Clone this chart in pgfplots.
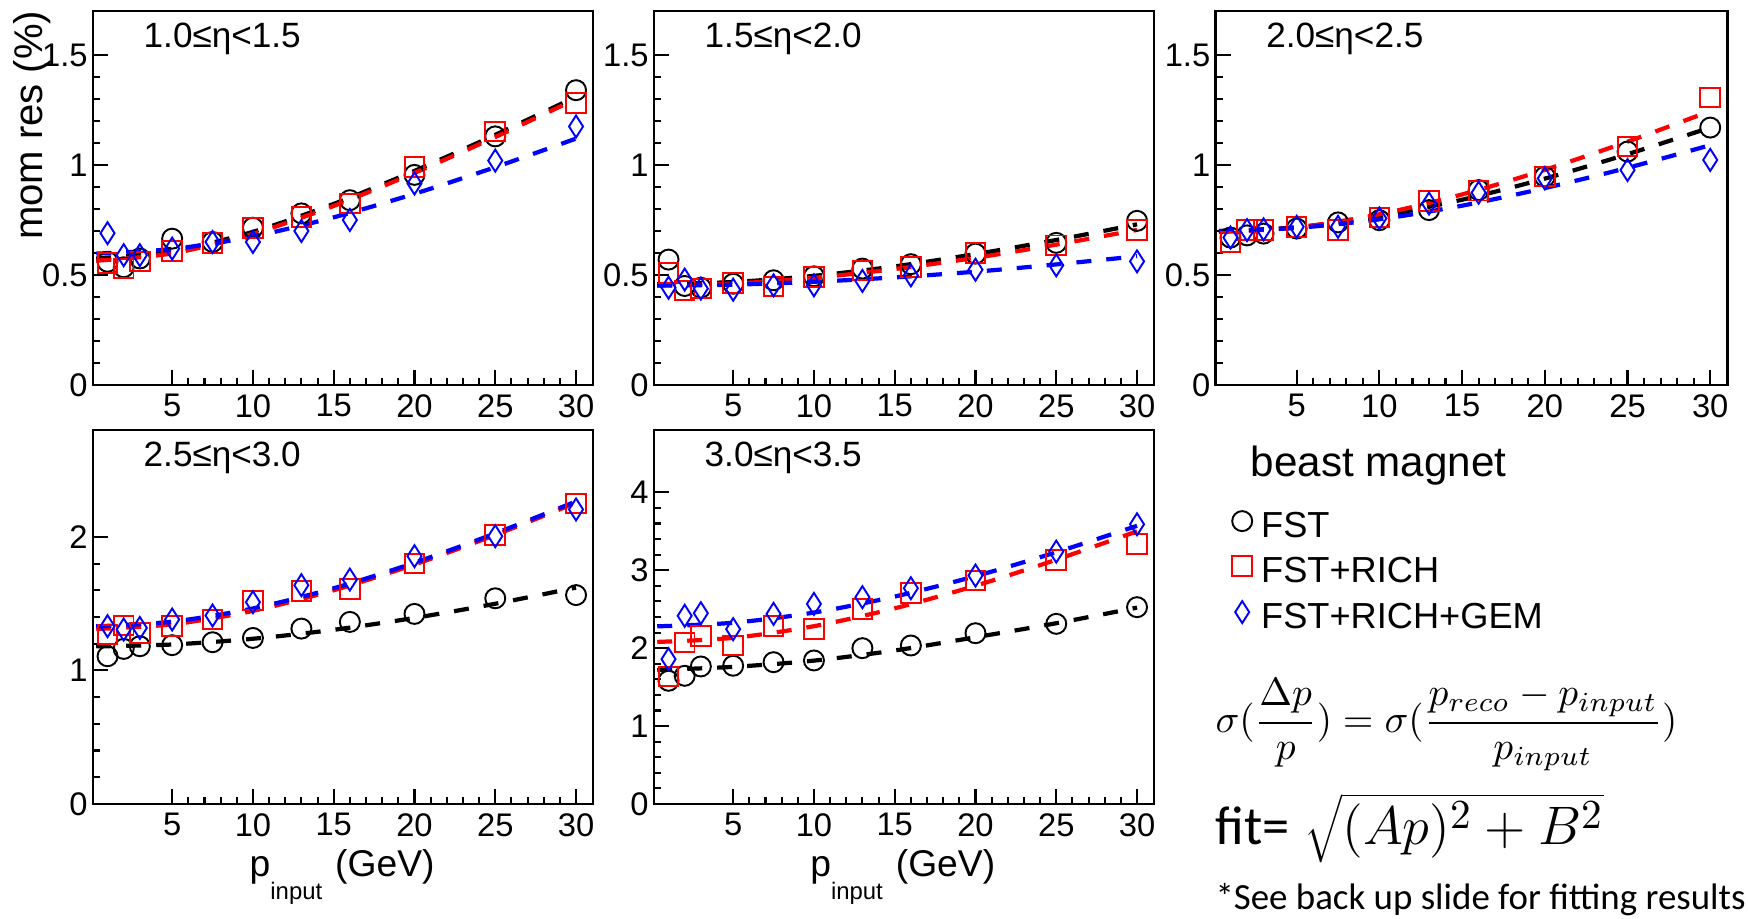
\documentclass[border=0pt]{standalone}
\usepackage{fontspec}
\setmainfont{Liberation Sans}
\newfontfamily\carlito{Carlito}
\usepackage{graphicx}
\usepackage{pgfplots}
\pgfplotsset{compat=1.18}

\pgfplotsset{
  rootframe/.style={
    scale only axis, width=50mm, height=37.4mm,
    anchor=south west, clip=false,
    xmin=0.1, xmax=31.05,
    xtick={5,10,...,30}, minor x tick num=4, minor y tick num=4,
    tick pos=left, tick align=inside,
    major tick length=1.5mm, minor tick length=0.7mm,
    axis line style={line width=0.8pt},
    tick style={line width=0.6pt, black},
    tick label style={font=\fontsize{9.3}{11}\selectfont},
    /pgf/number format/assume math mode=true,
    yticklabel style={xshift=0.7mm},
    xticklabel style={yshift=0.3mm},
  },
  fst/.style={only marks, mark=o, mark size=1mm, black, mark options={line width=0.55pt}},
  rich/.style={only marks, mark=square, mark size=0.98mm, red, mark options={line width=0.55pt}},
  gem/.style={only marks, mark=diamond, mark size=1.1mm, blue, mark options={line width=0.55pt, xscale=0.85}},
  fitline/.style={no marks, smooth, line width=1.2pt, dash pattern=on 1.5mm off 1.5mm, forget plot},
}
\newcommand{\etalabel}[1]{\node[anchor=base west, inner sep=0pt, xshift=5mm, yshift=-3.7mm,
  font=\fontsize{10}{12}\selectfont] at (rel axis cs:0,1) {#1};}

\begin{document}
\begin{tikzpicture}
\useasboundingbox (0,0) rectangle (174.8mm,91.9mm);

% 1.0 <= eta < 1.5
\begin{axis}[rootframe, at={(9.3mm,53.4mm)}, ymin=0, ymax=1.7, ytick={0,0.5,1,1.5}]
\addplot[fst] coordinates {(1,0.56) (2,0.535) (3,0.575) (5,0.665) (7.5,0.65) (10,0.715) (13,0.78) (16,0.84) (20,0.955) (25,1.13) (30,1.34)};
\addplot[rich] coordinates {(1,0.555) (2,0.53) (3,0.562) (5,0.61) (7.5,0.646) (10,0.714) (13,0.764) (16,0.825) (20,0.99) (25,1.152) (30,1.281)};
\addplot[gem] coordinates {(1,0.69) (2,0.59) (3,0.59) (5,0.62) (7.5,0.65) (10,0.65) (13,0.70) (16,0.75) (20,0.916) (25,1.02) (30,1.175)};
\addplot[fitline, black] coordinates {(0.3,0.575) (5,0.608) (10,0.696) (15,0.823) (20,0.973) (25,1.137) (30,1.31)};
\addplot[fitline, red] coordinates {(0.3,0.565) (5,0.598) (10,0.687) (15,0.814) (20,0.964) (25,1.127) (30,1.30)};
\addplot[fitline, blue] coordinates {(0.3,0.597) (5,0.618) (10,0.675) (15,0.762) (20,0.869) (25,0.990) (30,1.12)};
\etalabel{1.0≤η<1.5}
\end{axis}

% 1.5 <= eta < 2.0
\begin{axis}[rootframe, at={(65.4mm,53.4mm)}, ymin=0, ymax=1.7, ytick={0,0.5,1,1.5}]
\addplot[fst] coordinates {(1,0.57) (2,0.45) (3,0.442) (5,0.46) (7.5,0.476) (10,0.494) (13,0.529) (16,0.549) (20,0.597) (25,0.646) (30,0.746)};
\addplot[rich] coordinates {(1,0.51) (2,0.43) (3,0.438) (5,0.464) (7.5,0.448) (10,0.49) (13,0.521) (16,0.536) (20,0.60) (25,0.635) (30,0.704)};
\addplot[gem] coordinates {(1,0.442) (2,0.479) (3,0.438) (5,0.433) (7.5,0.453) (10,0.453) (13,0.473) (16,0.498) (20,0.524) (25,0.544) (30,0.562)};
\addplot[fitline, black] coordinates {(0.3,0.458) (5,0.468) (10,0.496) (15,0.539) (20,0.595) (25,0.659) (30,0.73)};
\addplot[fitline, red] coordinates {(0.3,0.452) (5,0.461) (10,0.487) (15,0.527) (20,0.578) (25,0.638) (30,0.705)};
\addplot[fitline, blue] coordinates {(0.3,0.452) (5,0.456) (10,0.469) (15,0.489) (20,0.515) (25,0.548) (30,0.585)};
\etalabel{1.5≤η<2.0}
\end{axis}

% 2.0 <= eta < 2.5
\begin{axis}[rootframe, at={(121.56mm,53.4mm)}, width=51.2mm, ymin=0, ymax=1.7, ytick={0,0.5,1,1.5}]
\addplot[fst] coordinates {(1,0.67) (2,0.68) (3,0.688) (5,0.711) (7.5,0.739) (10,0.749) (13,0.795) (16,0.886) (20,0.947) (25,1.061) (30,1.17)};
\addplot[rich] coordinates {(1,0.65) (2,0.704) (3,0.704) (5,0.719) (7.5,0.704) (10,0.761) (13,0.836) (16,0.883) (20,0.947) (25,1.084) (30,1.307)};
\addplot[gem] coordinates {(1,0.67) (2,0.704) (3,0.707) (5,0.719) (7.5,0.719) (10,0.757) (13,0.825) (16,0.874) (20,0.939) (25,0.977) (30,1.023)};
\addplot[fitline, black] coordinates {(0.3,0.70) (5,0.717) (10,0.767) (15,0.842) (20,0.938) (25,1.049) (30,1.17)};
\addplot[fitline, red] coordinates {(0.3,0.695) (5,0.716) (10,0.776) (15,0.866) (20,0.978) (25,1.106) (30,1.245)};
\addplot[fitline, blue] coordinates {(0.3,0.70) (5,0.714) (10,0.753) (15,0.815) (20,0.895) (25,0.987) (30,1.09)};
\etalabel{2.0≤η<2.5}
\end{axis}

% 2.5 <= eta < 3.0
\begin{axis}[rootframe, at={(9.3mm,11.5mm)}, ymin=0, ymax=2.8, ytick={0,1,2}]
\addplot[fst] coordinates {(1,1.106) (2,1.161) (3,1.181) (5,1.189) (7.5,1.211) (10,1.243) (13,1.313) (16,1.363) (20,1.423) (25,1.54) (30,1.564)};
\addplot[rich] coordinates {(1,1.268) (2,1.336) (3,1.281) (5,1.331) (7.5,1.381) (10,1.523) (13,1.593) (16,1.61) (20,1.80) (25,2.012) (30,2.25)};
\addplot[gem] coordinates {(1,1.331) (2,1.306) (3,1.318) (5,1.381) (7.5,1.411) (10,1.511) (13,1.638) (16,1.68) (20,1.855) (25,2.005) (30,2.205)};
\addplot[fitline, black] coordinates {(0.3,1.18) (5,1.194) (10,1.237) (15,1.304) (20,1.393) (25,1.499) (30,1.62)};
\addplot[fitline, red] coordinates {(0.3,1.31) (5,1.345) (10,1.446) (15,1.600) (20,1.793) (25,2.014) (30,2.255)};
\addplot[fitline, blue] coordinates {(0.3,1.33) (5,1.365) (10,1.464) (15,1.615) (20,1.806) (25,2.026) (30,2.265)};
\etalabel{2.5≤η<3.0}
\end{axis}

% 3.0 <= eta < 3.5, carries the legend
\begin{axis}[rootframe, at={(65.4mm,11.5mm)}, ymin=0, ymax=4.8, ytick={0,1,2,3,4},
  legend image code/.code={\draw[#1] plot coordinates {(0mm,0.5mm)};},
  legend style={at={(axis description cs:1.155,0.785)}, anchor=north west,
    draw=none, fill=none, inner sep=0pt, row sep=1.5mm, column sep=0.9mm,
    font=\fontsize{10.3}{12}\selectfont,
    nodes={inner sep=0pt, text height=2.6mm, text depth=0.4mm}},
  legend cell align=left]
\addplot[fst] coordinates {(1,1.581) (2,1.645) (3,1.765) (5,1.774) (7.5,1.82) (10,1.842) (13,2.0) (16,2.034) (20,2.192) (25,2.312) (30,2.526)};
\addlegendentry{FST}
\addplot[rich] coordinates {(1,1.637) (2,2.073) (3,2.158) (5,2.034) (7.5,2.286) (10,2.244) (13,2.5) (16,2.705) (20,2.868) (25,3.132) (30,3.338)};
\addlegendentry{FST+RICH}
\addplot[gem] coordinates {(1,1.859) (2,2.415) (3,2.449) (5,2.244) (7.5,2.44) (10,2.568) (13,2.654) (16,2.769) (20,2.932) (25,3.239) (30,3.59)};
\addlegendentry{FST+RICH+GEM}
\addplot[fitline, black] coordinates {(0.3,1.72) (5,1.76) (10,1.84) (15,1.97) (20,2.14) (25,2.32) (30,2.52)};
\addplot[fitline, red] coordinates {(0.3,2.08) (5,2.132) (10,2.282) (15,2.511) (20,2.801) (25,3.135) (30,3.50)};
\addplot[fitline, blue] coordinates {(0.3,2.28) (5,2.326) (10,2.457) (15,2.662) (20,2.924) (25,3.231) (30,3.57)};
\etalabel{3.0≤η<3.5}
\end{axis}

% axis titles
\node[rotate=90, anchor=base east, inner sep=0pt, font=\fontsize{11.4}{13}\selectfont] at (4.3mm,90.9mm) {mom res (\%)};
\node[anchor=base west, inner sep=0pt, font=\fontsize{10.6}{12}\selectfont] at (24.9mm,4.2mm)
  {p\raisebox{-2.3mm}{\fontsize{6.8}{8}\selectfont input}\hspace{1.3mm}(GeV)};
\node[anchor=base west, inner sep=0pt, font=\fontsize{10.6}{12}\selectfont] at (80.96mm,4.2mm)
  {p\raisebox{-2.3mm}{\fontsize{6.8}{8}\selectfont input}\hspace{1.3mm}(GeV)};

% legend title and notes
\node[anchor=base west, inner sep=0pt, font=\fontsize{12}{14}\selectfont] at (125.0mm,44.23mm) {beast magnet};
\node[anchor=west, inner sep=0pt] at (121.48mm,19.4mm)
  {\resizebox{46.2mm}{!}{$\displaystyle \sigma(\frac{\Delta p}{p}) = \sigma(\frac{p_{reco}-p_{input}}{p_{input}})$}};
\node[anchor=base west, inner sep=0pt] at (121.48mm,7.45mm)
  {\carlito\fontsize{15.5}{17}\selectfont fit=\hspace{1.5mm}\resizebox{29.9mm}{!}{$\sqrt{(Ap)^2+B^2}$}};
\node[anchor=base west, inner sep=0pt] at (121.48mm,0.9mm)
  {\carlito\fontsize{10.5}{12}\selectfont *See back up slide for fitting results};
\end{tikzpicture}
\end{document}
